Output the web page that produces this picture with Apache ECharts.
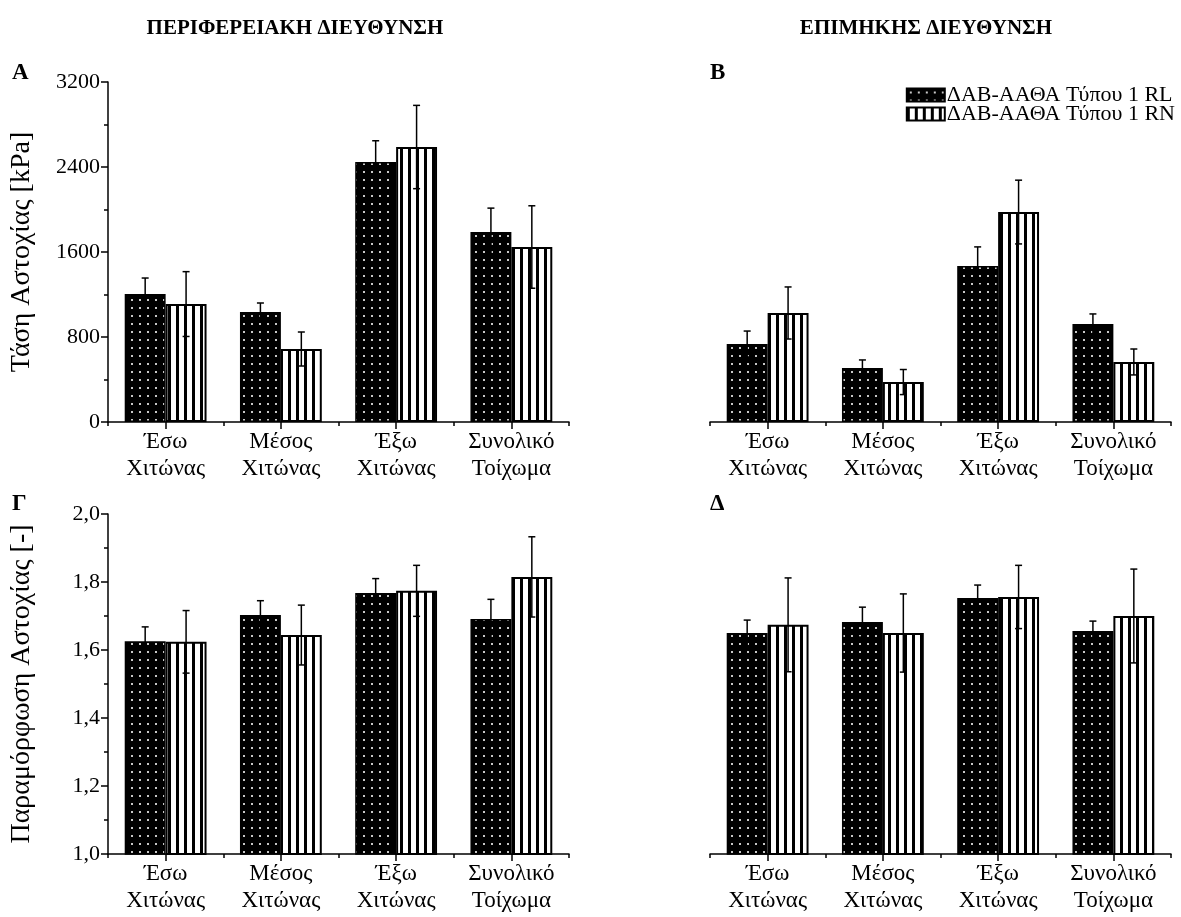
<!DOCTYPE html>
<html>
<head>
<meta charset="utf-8">
<script src="https://cdn.jsdelivr.net/npm/echarts@6/dist/echarts.min.js"></script>
<style>
  html, body { margin: 0; padding: 0; background: #fff; }
  #chart { width: 1181px; height: 917px; }
</style>
</head>
<body>
<div id="chart"></div>
<script>
// Layer categories shared by all four panels
const categories = ['Έσω\nΧιτώνας', 'Μέσος\nΧιτώνας', 'Έξω\nΧιτώνας', 'Συνολικό\nΤοίχωμα'];
const seriesNames = ['ΔΑΒ-ΑΑΘΑ Τύπου 1 RL', 'ΔΑΒ-ΑΑΘΑ Τύπου 1 RN'];

// A: failure stress, circumferential direction [kPa]
const stressCircRL = [1205, 1035, 2447, 1788];
const stressCircRLErr = [150, 85, 200, 225];
const stressCircRN = [1110, 687, 2588, 1647];
const stressCircRNErr = [305, 160, 392, 388];

// B: failure stress, longitudinal direction [kPa]
const stressLongRL = [734, 508, 1468, 922];
const stressLongRLErr = [122, 76, 180, 95];
const stressLongRN = [1026, 376, 1976, 565];
const stressLongRNErr = [245, 118, 300, 122];

// Γ: failure stretch, circumferential direction [-]
const strainCircRL = [1.626, 1.703, 1.768, 1.691];
const strainCircRLErr = [0.042, 0.042, 0.042, 0.058];
const strainCircRN = [1.624, 1.644, 1.774, 1.815];
const strainCircRNErr = [0.092, 0.088, 0.075, 0.118];

// Δ: failure stretch, longitudinal direction [-]
const strainLongRL = [1.650, 1.682, 1.753, 1.656];
const strainLongRLErr = [0.038, 0.044, 0.038, 0.029];
const strainLongRN = [1.674, 1.650, 1.756, 1.700];
const strainLongRNErr = [0.138, 0.115, 0.093, 0.138];

// Axis tick values
const stressTicks = { min: 0, max: 3200, interval: 800 };
const strainTicks = { min: 1.0, max: 2.0, interval: 0.2 };

const FONT = '"Liberation Serif", "DejaVu Serif", serif';

// Fill patterns: black with light dots, and vertical black/white stripes
function dotPattern() {
  const c = document.createElement('canvas');
  c.width = 8; c.height = 8;
  const g = c.getContext('2d');
  g.fillStyle = '#000'; g.fillRect(0, 0, 8, 8);
  g.fillStyle = '#c8c8c8'; g.fillRect(3, 3, 2, 2);
  return c;
}
function stripePattern() {
  const c = document.createElement('canvas');
  c.width = 8; c.height = 8;
  const g = c.getContext('2d');
  g.fillStyle = '#fff'; g.fillRect(0, 0, 8, 8);
  g.fillStyle = '#000'; g.fillRect(0, 0, 3, 8);
  return c;
}
const fillRL = { image: dotPattern(), repeat: 'repeat' };
const fillRN = { image: stripePattern(), repeat: 'repeat' };

const chart = echarts.init(document.getElementById('chart'), null, { renderer: 'canvas' });

const grids = [
  { left: 108, top: 82, width: 461, height: 340 },
  { left: 710, top: 82, width: 461, height: 340 },
  { left: 108, top: 514, width: 461, height: 340 },
  { left: 710, top: 514, width: 461, height: 340 }
];

const xAxes = [];
grids.forEach((g, i) => {
  // main category axis: line, labels and short ticks at category boundaries
  xAxes.push({
    type: 'category', gridIndex: i, data: categories,
    axisLine: { lineStyle: { color: '#000', width: 1.5 } },
    axisTick: { show: true, length: 4, interval: 0, lineStyle: { color: '#000', width: 1.5 } },
    axisLabel: { interval: 0, color: '#000', fontFamily: FONT, fontSize: 23, lineHeight: 27, margin: 6 },
    splitLine: { show: false }
  });
  // companion axis: longer ticks at category centres
  xAxes.push({
    type: 'category', gridIndex: i, data: categories, position: 'bottom',
    axisLine: { show: false },
    axisTick: { show: true, alignWithLabel: true, length: 7, interval: 0, lineStyle: { color: '#000', width: 1.5 } },
    axisLabel: { show: false },
    splitLine: { show: false }
  });
});

const stressFmt = v => String(v);
const strainFmt = v => v.toFixed(1).replace('.', ',');

function yAxis(gridIndex, ticks, fmt, show, name) {
  return {
    type: 'value', gridIndex: gridIndex,
    min: ticks.min, max: ticks.max, interval: ticks.interval,
    show: show,
    name: name || '', nameLocation: 'middle', nameGap: 72, nameRotate: 90,
    nameTextStyle: { color: '#000', fontFamily: FONT, fontSize: 28 },
    axisLine: { show: true, lineStyle: { color: '#000', width: 1.5 } },
    axisTick: { show: true, length: 7, lineStyle: { color: '#000', width: 1.5 } },
    minorTick: { show: true, splitNumber: 2, length: 4, lineStyle: { color: '#000', width: 1.5 } },
    axisLabel: { color: '#000', fontFamily: FONT, fontSize: 22, margin: 8, formatter: fmt },
    splitLine: { show: false }
  };
}

const yAxes = [
  yAxis(0, stressTicks, stressFmt, true, 'Τάση Αστοχίας [kPa]'),
  yAxis(1, stressTicks, stressFmt, false),
  yAxis(2, strainTicks, strainFmt, true, 'Παραμόρφωση Αστοχίας [-]'),
  yAxis(3, strainTicks, strainFmt, false)
];

const panels = [
  [stressCircRL, stressCircRLErr, stressCircRN, stressCircRNErr],
  [stressLongRL, stressLongRLErr, stressLongRN, stressLongRNErr],
  [strainCircRL, strainCircRLErr, strainCircRN, strainCircRNErr],
  [strainLongRL, strainLongRLErr, strainLongRN, strainLongRNErr]
];

// Error bars with caps, placed over the left (RL) or right (RN) bar of each group
function errorRenderer(side) {
  return function (params, api) {
    const idx = api.value(0);
    const mean = api.value(1);
    const err = api.value(2);
    const catW = api.size([1, 0])[0];
    const barW = catW * 0.355;
    const centre = api.coord([idx, mean]);
    const x = centre[0] + side * barW / 2;
    const hi = api.coord([idx, mean + err])[1];
    const lo = api.coord([idx, mean - err])[1];
    const cap = 3.5;
    const style = { stroke: '#000', lineWidth: 1.5 };
    return {
      type: 'group',
      children: [
        { type: 'line', shape: { x1: x, y1: hi, x2: x, y2: lo }, style: style },
        { type: 'line', shape: { x1: x - cap, y1: hi, x2: x + cap, y2: hi }, style: style },
        { type: 'line', shape: { x1: x - cap, y1: lo, x2: x + cap, y2: lo }, style: style }
      ]
    };
  };
}

const series = [];
panels.forEach((p, i) => {
  const [rl, rlErr, rn, rnErr] = p;
  const common = {
    type: 'bar', xAxisIndex: i * 2, yAxisIndex: i,
    barGap: '0%', barCategoryGap: '29%', animation: false,
    emphasis: { disabled: true }
  };
  series.push(Object.assign({}, common, {
    name: seriesNames[0], data: rl,
    itemStyle: { color: fillRL, borderColor: '#000', borderWidth: 1.5 }
  }));
  series.push(Object.assign({}, common, {
    name: seriesNames[1], data: rn,
    itemStyle: { color: fillRN, borderColor: '#000', borderWidth: 2 }
  }));
  series.push({
    type: 'custom', xAxisIndex: i * 2, yAxisIndex: i, z: 5, animation: false,
    renderItem: errorRenderer(-1),
    data: rl.map((v, k) => [k, v, rlErr[k]])
  });
  series.push({
    type: 'custom', xAxisIndex: i * 2, yAxisIndex: i, z: 5, animation: false,
    renderItem: errorRenderer(1),
    data: rn.map((v, k) => [k, v, rnErr[k]])
  });
});

const titleStyle = { color: '#000', fontFamily: FONT, fontSize: 21, fontWeight: 'bold' };
const letterStyle = { color: '#000', fontFamily: FONT, fontSize: 23, fontWeight: 'bold' };

chart.setOption({
  backgroundColor: '#fff',
  animation: false,
  title: [
    { text: 'ΠΕΡΙΦΕΡΕΙΑΚΗ ΔΙΕΥΘΥΝΣΗ', left: 290, top: 13, textAlign: 'center', textStyle: titleStyle },
    { text: 'ΕΠΙΜΗΚΗΣ ΔΙΕΥΘΥΝΣΗ', left: 921, top: 13, textAlign: 'center', textStyle: titleStyle },
    { text: 'A', left: 7, top: 57, textStyle: letterStyle },
    { text: 'B', left: 705, top: 57, textStyle: letterStyle },
    { text: 'Γ', left: 7, top: 488, textStyle: letterStyle },
    { text: 'Δ', left: 705, top: 488, textStyle: letterStyle }
  ],
  legend: {
    data: seriesNames,
    orient: 'vertical',
    right: 1, top: 79,
    itemWidth: 38, itemHeight: 13, itemGap: -3,
    icon: 'rect',
    selectedMode: false,
    textStyle: { color: '#000', fontFamily: FONT, fontSize: 22, lineHeight: 19, padding: [0, 0, 0, -3] }
  },
  grid: grids,
  xAxis: xAxes,
  yAxis: yAxes,
  series: series
});
</script>
</body>
</html>
